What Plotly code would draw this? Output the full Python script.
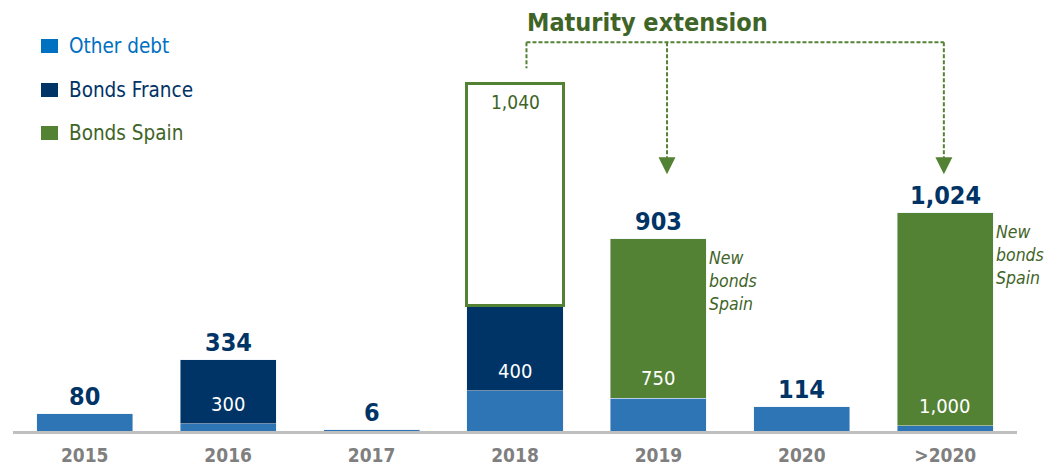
import plotly.graph_objects as go

# -----------------------------
# Data
# -----------------------------
years = ["2015", "2016", "2017", "2018", "2019", "2020", ">2020"]
other_debt = [80, 34, 6, 190, 153, 114, 24]
bonds_france = [None, 300, None, 400, None, None, None]
bonds_spain = [None, None, None, None, 750, None, 1000]
bonds_spain_extended = [None, None, None, 1040, None, None, None]
totals = [80, 334, 6, None, 903, 114, 1024]
series_names = ["Other debt", "Bonds France", "Bonds Spain"]

BLUE = "#2E75B6"
NAVY = "#003366"
GREEN = "#548235"
DKGREEN = "#3F6427"
FONT = "DejaVu Sans Condensed"

idx = list(range(len(years)))

fig = go.Figure()
fig.add_trace(go.Bar(x=idx, y=other_debt, name=series_names[0], marker_color=BLUE))
fig.add_trace(go.Bar(x=idx, y=bonds_france, name=series_names[1], marker_color=NAVY))
fig.add_trace(go.Bar(x=idx, y=bonds_spain, name=series_names[2], marker_color=GREEN))
fig.add_trace(go.Bar(x=idx, y=bonds_spain_extended, name="extended",
                     marker=dict(color="white", line=dict(color=GREEN, width=3))))

# -----------------------------
# Labels
# -----------------------------
annotations = []
for i in idx:
    if totals[i] is not None:
        annotations.append(dict(x=i, y=totals[i], text=f"<b>{totals[i]:,}</b>", showarrow=False,
                                yanchor="bottom", yshift=1,
                                font=dict(size=25, color=NAVY, family=FONT)))
    for seg in (bonds_france, bonds_spain):
        if seg[i]:
            annotations.append(dict(x=i, y=other_debt[i], text=f"{seg[i]:,}", showarrow=False,
                                    yanchor="bottom", yshift=6,
                                    font=dict(size=20, color="white", family=FONT)))
    if bonds_spain_extended[i]:
        top = other_debt[i] + (bonds_france[i] or 0) + bonds_spain_extended[i]
        annotations.append(dict(x=i, y=top, text=f"{bonds_spain_extended[i]:,}", showarrow=False,
                                yanchor="top", yshift=-5,
                                font=dict(size=19, color=DKGREEN, family=FONT)))

new_bonds = "<i>New<br>bonds<br>Spain</i>"
annotations.append(dict(x=4.34, y=868, text=new_bonds, showarrow=False, xanchor="left",
                        yanchor="top", align="left",
                        font=dict(size=17.5, color=DKGREEN, family=FONT)))
annotations.append(dict(x=6.34, y=990, text=new_bonds, showarrow=False, xanchor="left",
                        yanchor="top", align="left",
                        font=dict(size=17.5, color=DKGREEN, family=FONT)))
annotations.append(dict(x=3.07, y=1840, text="<b>Maturity extension</b>", showarrow=False,
                        xanchor="left", yanchor="bottom",
                        font=dict(size=25, color=DKGREEN, family=FONT)))

# arrow heads of the bracket
for xa in (4.06, 5.99):
    annotations.append(dict(x=xa, y=1206, ax=0, ay=-16, text="", showarrow=True,
                            arrowhead=2, arrowsize=1.7, arrowwidth=2, arrowcolor=GREEN))

# legend drawn by hand (coloured text per entry)
legend_colors = ["#0070C0", NAVY, GREEN]
legend_text_colors = ["#0070C0", NAVY, DKGREEN]
legend_y = [46, 90, 133]
shapes = []
for name, c, tc, py in zip(series_names, legend_colors, legend_text_colors, legend_y):
    yc = 1 - (py - 20) / 411
    shapes.append(dict(type="rect", xref="paper", yref="paper",
                       x0=(41 - 13) / 1004, x1=(58 - 13) / 1004,
                       y0=yc - 7 / 411, y1=yc + 7 / 411,
                       fillcolor=c, line=dict(width=0)))
    annotations.append(dict(xref="paper", yref="paper", x=(67 - 13) / 1004, y=yc,
                            text=name, showarrow=False, xanchor="left", yanchor="middle",
                            font=dict(size=20.5, color=tc, family=FONT)))

# dashed bracket
dash = dict(color=GREEN, width=2, dash="4px,2px")
shapes += [
    dict(type="line", x0=3.08, x1=5.99, y0=1826, y1=1826, line=dash),
    dict(type="line", x0=3.08, x1=3.08, y0=1826, y1=1704, line=dash),
    dict(type="line", x0=4.06, x1=4.06, y0=1826, y1=1230, line=dash),
    dict(type="line", x0=5.99, x1=5.99, y0=1826, y1=1230, line=dash),
]

# page body has an 8px default margin, so the figure is shrunk by 8px
fig.update_layout(
    barmode="stack",
    bargap=0.33,
    width=1045, height=460,
    margin=dict(l=5, r=36, t=12, b=37, autoexpand=False),
    plot_bgcolor="white", paper_bgcolor="white",
    font=dict(family=FONT),
    showlegend=False,
    xaxis=dict(showline=True, linecolor="#BFBFBF", linewidth=3, showgrid=False, zeroline=False,
               ticks="", tickvals=idx, ticktext=[f"<b>{y}</b>" for y in years],
               tickfont=dict(size=19, color="#7F7F7F", family=FONT),
               ticklabelstandoff=5, automargin=False,
               range=[-0.5, 6.5]),
    yaxis=dict(visible=False, range=[0, 1930]),
    annotations=annotations,
    shapes=shapes,
)

fig.write_html("out.html")
